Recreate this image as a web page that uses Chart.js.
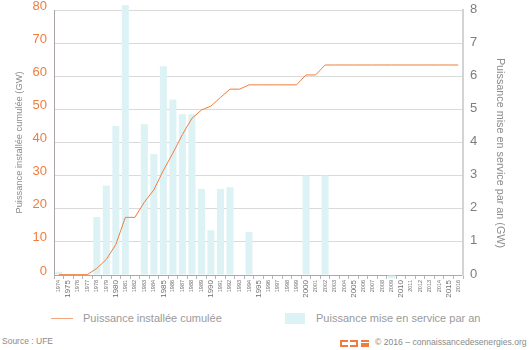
<!DOCTYPE html>
<html lang="fr">
<head>
<meta charset="utf-8">
<script src="https://cdn.jsdelivr.net/npm/chart.js@4/dist/chart.umd.min.js"></script>
<style>
  html, body { margin: 0; padding: 0; background: #fff; }
  #wrap { position: relative; width: 530px; height: 350px; overflow: hidden; font-family: "Liberation Sans", Arial, sans-serif; }
  #chart { position: absolute; left: 0; top: 0; }
  .lg-line { position: absolute; left: 51px; top: 318px; width: 22px; height: 1px; background: #f4a47e; }
  .lg-box { position: absolute; left: 285px; top: 313px; width: 20px; height: 11px; background: #ddf2f5; }
  .lg-text { position: absolute; top: 311px; font-size: 11px; color: #9a9a9a; line-height: 14px; white-space: nowrap; }
  .src { position: absolute; left: 2px; top: 336px; font-size: 8.5px; color: #8a8a8a; white-space: nowrap; }
  .copy { position: absolute; left: 375px; top: 337px; font-size: 8.6px; color: #8a8a8a; white-space: nowrap; }
  .logo { position: absolute; top: 340px; width: 6px; height: 3px; border-color: #f07d3c; border-style: solid; border-width: 0; }
  .l1 { left: 340px; border-width: 2px 0 2px 2px; }
  .l2 { left: 350px; border-width: 2px 2px 2px 0; }
  .l3 { left: 361px; width: 8px; height: 7px; background: linear-gradient(#f07d3c 0 2px, transparent 2px 3px, #f07d3c 3px 5px, transparent 5px 5px) top/100% 7px no-repeat, linear-gradient(#f07d3c, #f07d3c) bottom/100% 2px no-repeat; }
</style>
</head>
<body>
<div id="wrap">
  <canvas id="chart" width="530" height="300"></canvas>
  <div class="lg-line"></div>
  <div class="lg-text" style="left:83px">Puissance installée cumulée</div>
  <div class="lg-box"></div>
  <div class="lg-text" style="left:316px">Puissance mise en service par an</div>
  <div class="src">Source : UFE</div>
  <div class="logo l1"></div>
  <div class="logo l2"></div>
  <div class="logo l3"></div>
  <div class="copy">© 2016 – connaissancedesenergies.org</div>
</div>
<script>
// Years on the horizontal axis
const years = [
  '1974','1975','1976','1977','1978','1979','1980','1981','1982','1983',
  '1984','1985','1986','1987','1988','1989','1990','1991','1992','1993',
  '1994','1995','1996','1997','1998','1999','2000','2001','2002','2003',
  '2004','2005','2006','2007','2008','2009','2010','2011','2012','2013',
  '2014','2015','2016'
];

// Capacity commissioned each year (GW, right axis)
const annualGW = [
  0.1, 0, 0, 0, 1.75, 2.7, 4.5, 8.15, 0, 4.55,
  3.65, 6.3, 5.3, 4.85, 4.85, 2.6, 1.35, 2.6, 2.65, 0,
  1.3, 0, 0, 0, 0, 0, 3.0, 0, 3.0, 0,
  0, 0, 0, 0, 0, -0.1, 0, 0, 0, 0,
  0, 0, 0
];

// Cumulative installed capacity (GW, left axis)
const cumulativeGW = [
  0.1, 0.1, 0.1, 0.1, 2.0, 4.7, 9.2, 17.4, 17.4, 22.0,
  25.7, 31.6, 36.8, 42.4, 47.3, 49.8, 51.0, 53.6, 56.1, 56.1,
  57.4, 57.4, 57.4, 57.4, 57.4, 57.4, 60.4, 60.4, 63.4, 63.4,
  63.4, 63.4, 63.4, 63.4, 63.4, 63.4, 63.4, 63.4, 63.4, 63.4,
  63.4, 63.4, 63.4
];

const leftTicks = [0, 10, 20, 30, 40, 50, 60, 70, 80];
const rightTicks = [0, 1, 2, 3, 4, 5, 6, 7, 8];

const FONT = '"Liberation Sans", Arial, sans-serif';
const ORANGE = '#f07d3c';

// Vertical axes: fixed width, no extra room reserved above/below for labels
function fixVertical(width) {
  return (scale) => {
    scale.width = width;
    scale.paddingTop = 0;
    scale.paddingBottom = 0;
  };
}

new Chart(document.getElementById('chart'), {
  data: {
    labels: years,
    datasets: [
      {
        type: 'line',
        label: 'Puissance installée cumulée',
        data: cumulativeGW,
        yAxisID: 'yCum',
        borderColor: ORANGE,
        borderWidth: 1,
        pointRadius: 0,
        tension: 0,
        order: 1
      },
      {
        type: 'bar',
        label: 'Puissance mise en service par an',
        data: annualGW,
        yAxisID: 'yAnn',
        backgroundColor: '#ddf2f5',
        borderWidth: 0,
        categoryPercentage: 1,
        barPercentage: 0.74,
        clip: false,
        order: 2
      }
    ]
  },
  options: {
    responsive: false,
    devicePixelRatio: 1,
    animation: false,
    layout: { padding: { left: 0, right: 0, top: 10, bottom: 0 } },
    plugins: {
      legend: { display: false },
      tooltip: { enabled: false }
    },
    scales: {
      x: {
        type: 'category',
        offset: true,
        grid: {
          offset: true,
          drawOnChartArea: false,
          drawTicks: true,
          tickLength: 4,
          color: '#b5b5b5'
        },
        border: { display: true, color: '#a9a9a9', width: 1 },
        ticks: {
          autoSkip: false,
          minRotation: 90,
          maxRotation: 90,
          padding: 1,
          color: '#6f6f6f',
          font: (ctx) => {
            const y = Number(years[ctx.index]);
            return { family: FONT, size: (y % 5 === 0) ? 8 : 5.5 };
          }
        },
        afterFit: (scale) => { scale.height = 25; }
      },
      yCum: {
        type: 'linear',
        position: 'left',
        min: 0,
        max: 80,
        afterBuildTicks: (scale) => { scale.ticks = leftTicks.map(v => ({ value: v })); },
        grid: { color: '#dadada', drawTicks: false, lineWidth: 1 },
        border: { display: true, color: '#a9a3a3', width: 1 },
        ticks: {
          padding: 7,
          labelOffset: -4,
          color: ORANGE,
          font: { family: FONT, size: 13 }
        },
        title: {
          display: true,
          text: 'Puissance installée cumulée (GW)',
          color: '#8c8c8c',
          font: { family: FONT, size: 9.3 },
          padding: { top: 14, bottom: 0 }
        },
        afterFit: fixVertical(54)
      },
      yAnn: {
        type: 'linear',
        position: 'right',
        min: 0,
        max: 8,
        afterBuildTicks: (scale) => { scale.ticks = rightTicks.map(v => ({ value: v })); },
        grid: { drawOnChartArea: false, drawTicks: false },
        border: { display: true, color: '#d3d3d3', width: 2 },
        ticks: {
          padding: 7,
          labelOffset: -1,
          color: '#7d7d7d',
          font: { family: '"Liberation Sans Narrow", ' + FONT, size: 13 }
        },
        title: {
          display: true,
          text: '       Puissance mise en service par an (GW)',
          color: '#8c8c8c',
          font: { family: FONT, size: 10.8 },
          padding: { top: 24, bottom: 0 }
        },
        afterFit: fixVertical(67)
      }
    }
  }
});
</script>
</body>
</html>
